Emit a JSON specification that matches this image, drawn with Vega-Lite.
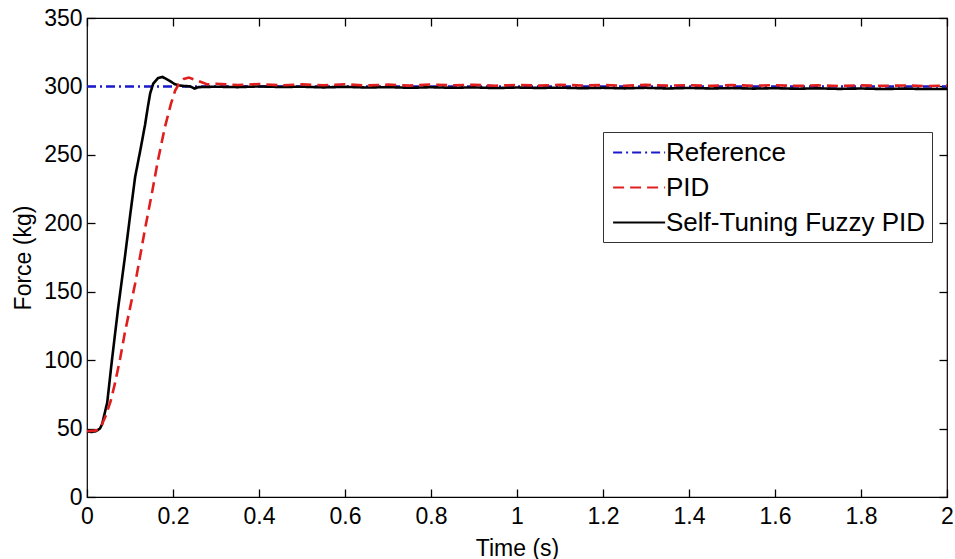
{
  "$schema": "https://vega.github.io/schema/vega-lite/v6.json",
  "width": 860,
  "height": 479,
  "autosize": {"type": "none"},
  "padding": {"left": 87, "top": 18, "right": 8, "bottom": 62},
  "background": "white",
  "config": {
    "font": "Liberation Sans",
    "view": {"stroke": "black", "strokeWidth": 1.2},
    "axis": {
      "grid": false,
      "domain": false,
      "tickSize": -8,
      "tickColor": "black",
      "tickWidth": 1.3,
      "labelFont": "Liberation Sans",
      "labelFontSize": 23,
      "labelColor": "black",
      "titleFont": "Liberation Sans",
      "titleFontSize": 23,
      "titleFontWeight": "normal",
      "titleColor": "black"
    },
    "legend": {
      "title": null,
      "symbolType": "M-0.8,0H3.2",
      "symbolSize": 676,
      "symbolStrokeWidth": 2.2,
      "symbolFillColor": "transparent",
      "labelFont": "Liberation Sans",
      "labelFontSize": 26,
      "labelColor": "black",
      "labelOffset": 28,
      "labelLimit": 400,
      "rowPadding": 7,
      "padding": 6,
      "strokeColor": "#333333",
      "fillColor": "white",
      "cornerRadius": 0
    }
  },
  "datasets": {
    "curves": [
      {"t": 0, "force": 300, "series": "Reference"},
      {"t": 2, "force": 300, "series": "Reference"},
      {"t": 0, "force": 48, "series": "Self-Tuning Fuzzy PID"},
      {"t": 0.01, "force": 47.5, "series": "Self-Tuning Fuzzy PID"},
      {"t": 0.02, "force": 48, "series": "Self-Tuning Fuzzy PID"},
      {"t": 0.03, "force": 50, "series": "Self-Tuning Fuzzy PID"},
      {"t": 0.035, "force": 53, "series": "Self-Tuning Fuzzy PID"},
      {"t": 0.047, "force": 69, "series": "Self-Tuning Fuzzy PID"},
      {"t": 0.058, "force": 100, "series": "Self-Tuning Fuzzy PID"},
      {"t": 0.072, "force": 137, "series": "Self-Tuning Fuzzy PID"},
      {"t": 0.088, "force": 175, "series": "Self-Tuning Fuzzy PID"},
      {"t": 0.1, "force": 205, "series": "Self-Tuning Fuzzy PID"},
      {"t": 0.112, "force": 234, "series": "Self-Tuning Fuzzy PID"},
      {"t": 0.125, "force": 255, "series": "Self-Tuning Fuzzy PID"},
      {"t": 0.135, "force": 272, "series": "Self-Tuning Fuzzy PID"},
      {"t": 0.142, "force": 286, "series": "Self-Tuning Fuzzy PID"},
      {"t": 0.147, "force": 295, "series": "Self-Tuning Fuzzy PID"},
      {"t": 0.154, "force": 302, "series": "Self-Tuning Fuzzy PID"},
      {"t": 0.165, "force": 306, "series": "Self-Tuning Fuzzy PID"},
      {"t": 0.175, "force": 307, "series": "Self-Tuning Fuzzy PID"},
      {"t": 0.19, "force": 304.5, "series": "Self-Tuning Fuzzy PID"},
      {"t": 0.205, "force": 301.5, "series": "Self-Tuning Fuzzy PID"},
      {"t": 0.22, "force": 300.5, "series": "Self-Tuning Fuzzy PID"},
      {"t": 0.24, "force": 300, "series": "Self-Tuning Fuzzy PID"},
      {"t": 0.25, "force": 298.5, "series": "Self-Tuning Fuzzy PID"},
      {"t": 0.26, "force": 299.5, "series": "Self-Tuning Fuzzy PID"},
      {"t": 0.3, "force": 299.8, "series": "Self-Tuning Fuzzy PID"},
      {"t": 0.35, "force": 299.5, "series": "Self-Tuning Fuzzy PID"},
      {"t": 0.4, "force": 300, "series": "Self-Tuning Fuzzy PID"},
      {"t": 0.45, "force": 299.6, "series": "Self-Tuning Fuzzy PID"},
      {"t": 0.5, "force": 299.8, "series": "Self-Tuning Fuzzy PID"},
      {"t": 0.55, "force": 299.3, "series": "Self-Tuning Fuzzy PID"},
      {"t": 0.6, "force": 299.7, "series": "Self-Tuning Fuzzy PID"},
      {"t": 0.65, "force": 299.2, "series": "Self-Tuning Fuzzy PID"},
      {"t": 0.7, "force": 299.5, "series": "Self-Tuning Fuzzy PID"},
      {"t": 0.75, "force": 299, "series": "Self-Tuning Fuzzy PID"},
      {"t": 0.8, "force": 299.4, "series": "Self-Tuning Fuzzy PID"},
      {"t": 0.85, "force": 299, "series": "Self-Tuning Fuzzy PID"},
      {"t": 0.9, "force": 299.3, "series": "Self-Tuning Fuzzy PID"},
      {"t": 0.95, "force": 298.8, "series": "Self-Tuning Fuzzy PID"},
      {"t": 1.0, "force": 299.2, "series": "Self-Tuning Fuzzy PID"},
      {"t": 1.05, "force": 298.9, "series": "Self-Tuning Fuzzy PID"},
      {"t": 1.1, "force": 299.1, "series": "Self-Tuning Fuzzy PID"},
      {"t": 1.15, "force": 298.7, "series": "Self-Tuning Fuzzy PID"},
      {"t": 1.2, "force": 299, "series": "Self-Tuning Fuzzy PID"},
      {"t": 1.25, "force": 298.6, "series": "Self-Tuning Fuzzy PID"},
      {"t": 1.3, "force": 299, "series": "Self-Tuning Fuzzy PID"},
      {"t": 1.35, "force": 298.5, "series": "Self-Tuning Fuzzy PID"},
      {"t": 1.4, "force": 298.9, "series": "Self-Tuning Fuzzy PID"},
      {"t": 1.45, "force": 298.5, "series": "Self-Tuning Fuzzy PID"},
      {"t": 1.5, "force": 298.8, "series": "Self-Tuning Fuzzy PID"},
      {"t": 1.55, "force": 298.4, "series": "Self-Tuning Fuzzy PID"},
      {"t": 1.6, "force": 298.7, "series": "Self-Tuning Fuzzy PID"},
      {"t": 1.65, "force": 298.3, "series": "Self-Tuning Fuzzy PID"},
      {"t": 1.7, "force": 298.6, "series": "Self-Tuning Fuzzy PID"},
      {"t": 1.75, "force": 298.2, "series": "Self-Tuning Fuzzy PID"},
      {"t": 1.8, "force": 298.5, "series": "Self-Tuning Fuzzy PID"},
      {"t": 1.85, "force": 298.1, "series": "Self-Tuning Fuzzy PID"},
      {"t": 1.9, "force": 298.4, "series": "Self-Tuning Fuzzy PID"},
      {"t": 1.95, "force": 298.1, "series": "Self-Tuning Fuzzy PID"},
      {"t": 2.0, "force": 298.2, "series": "Self-Tuning Fuzzy PID"},
      {"t": 0, "force": 48, "series": "PID"},
      {"t": 0.02, "force": 48.5, "series": "PID"},
      {"t": 0.03, "force": 50, "series": "PID"},
      {"t": 0.042, "force": 58, "series": "PID"},
      {"t": 0.055, "force": 70, "series": "PID"},
      {"t": 0.065, "force": 83, "series": "PID"},
      {"t": 0.077, "force": 101, "series": "PID"},
      {"t": 0.088, "force": 120, "series": "PID"},
      {"t": 0.1, "force": 138, "series": "PID"},
      {"t": 0.112, "force": 156, "series": "PID"},
      {"t": 0.123, "force": 175, "series": "PID"},
      {"t": 0.135, "force": 196, "series": "PID"},
      {"t": 0.151, "force": 222, "series": "PID"},
      {"t": 0.165, "force": 246, "series": "PID"},
      {"t": 0.181, "force": 270, "series": "PID"},
      {"t": 0.195, "force": 287, "series": "PID"},
      {"t": 0.205, "force": 297, "series": "PID"},
      {"t": 0.215, "force": 302.5, "series": "PID"},
      {"t": 0.225, "force": 305.5, "series": "PID"},
      {"t": 0.237, "force": 306.5, "series": "PID"},
      {"t": 0.25, "force": 305, "series": "PID"},
      {"t": 0.267, "force": 303, "series": "PID"},
      {"t": 0.28, "force": 301.5, "series": "PID"},
      {"t": 0.3, "force": 302, "series": "PID"},
      {"t": 0.35, "force": 301, "series": "PID"},
      {"t": 0.4, "force": 301.8, "series": "PID"},
      {"t": 0.45, "force": 300.8, "series": "PID"},
      {"t": 0.5, "force": 301.5, "series": "PID"},
      {"t": 0.55, "force": 300.9, "series": "PID"},
      {"t": 0.6, "force": 301.6, "series": "PID"},
      {"t": 0.65, "force": 300.7, "series": "PID"},
      {"t": 0.7, "force": 301.3, "series": "PID"},
      {"t": 0.75, "force": 300.6, "series": "PID"},
      {"t": 0.8, "force": 301.4, "series": "PID"},
      {"t": 0.85, "force": 300.8, "series": "PID"},
      {"t": 0.9, "force": 301.2, "series": "PID"},
      {"t": 0.95, "force": 300.5, "series": "PID"},
      {"t": 1.0, "force": 301.1, "series": "PID"},
      {"t": 1.05, "force": 300.6, "series": "PID"},
      {"t": 1.1, "force": 301.2, "series": "PID"},
      {"t": 1.15, "force": 300.7, "series": "PID"},
      {"t": 1.2, "force": 301, "series": "PID"},
      {"t": 1.25, "force": 300.5, "series": "PID"},
      {"t": 1.3, "force": 301.1, "series": "PID"},
      {"t": 1.35, "force": 300.6, "series": "PID"},
      {"t": 1.4, "force": 300.9, "series": "PID"},
      {"t": 1.45, "force": 300.4, "series": "PID"},
      {"t": 1.5, "force": 301, "series": "PID"},
      {"t": 1.55, "force": 300.5, "series": "PID"},
      {"t": 1.6, "force": 300.9, "series": "PID"},
      {"t": 1.65, "force": 300.4, "series": "PID"},
      {"t": 1.7, "force": 300.8, "series": "PID"},
      {"t": 1.75, "force": 300.3, "series": "PID"},
      {"t": 1.8, "force": 300.8, "series": "PID"},
      {"t": 1.85, "force": 300.4, "series": "PID"},
      {"t": 1.9, "force": 300.7, "series": "PID"},
      {"t": 1.95, "force": 300.3, "series": "PID"},
      {"t": 2.0, "force": 300.6, "series": "PID"}
    ]
  },
  "data": {"name": "curves"},
  "layer": [
    {
      "mark": {"type": "line", "opacity": 0},
      "encoding": {
        "x": {"field": "t", "type": "quantitative", "scale": {"domain": [0, 2], "nice": false, "zero": false},
          "axis": {"orient": "top", "labels": false, "title": null, "values": [0, 0.2, 0.4, 0.6, 0.8, 1, 1.2, 1.4, 1.6, 1.8, 2]}},
        "y": {"field": "force", "type": "quantitative", "scale": {"domain": [0, 350], "nice": false},
          "axis": {"orient": "right", "labels": false, "title": null, "values": [0, 50, 100, 150, 200, 250, 300, 350]}},
        "detail": {"field": "series"}
      }
    },
    {
      "mark": {"type": "line", "strokeWidth": 2.6},
      "encoding": {
        "x": {"field": "t", "type": "quantitative", "scale": {"domain": [0, 2], "nice": false, "zero": false},
          "axis": {"orient": "bottom", "title": "Time (s)", "format": "~g", "values": [0, 0.2, 0.4, 0.6, 0.8, 1, 1.2, 1.4, 1.6, 1.8, 2], "labelPadding": 16, "titlePadding": 9, "labelFlush": false}},
        "y": {"field": "force", "type": "quantitative", "scale": {"domain": [0, 350], "nice": false},
          "axis": {"orient": "left", "title": "Force (kg)", "values": [0, 50, 100, 150, 200, 250, 300, 350], "labelPadding": 13, "titlePadding": 8, "labelFlush": false}},
        "color": {"field": "series", "type": "nominal",
          "scale": {"domain": ["Reference", "PID", "Self-Tuning Fuzzy PID"], "range": ["#1a1acc", "#e01e1e", "#000000"]},
          "legend": {"orient": "none", "legendX": 516, "legendY": 114}},
        "strokeDash": {"field": "series", "type": "nominal",
          "scale": {"domain": ["Reference", "PID", "Self-Tuning Fuzzy PID"], "range": [[9, 4, 2, 4], [11, 6], [1, 0]]},
          "legend": {"orient": "none", "legendX": 516, "legendY": 114}},
        "order": {"field": "t", "type": "quantitative"}
      }
    }
  ],
  "resolve": {"scale": {"x": "independent", "y": "independent"}}
}
